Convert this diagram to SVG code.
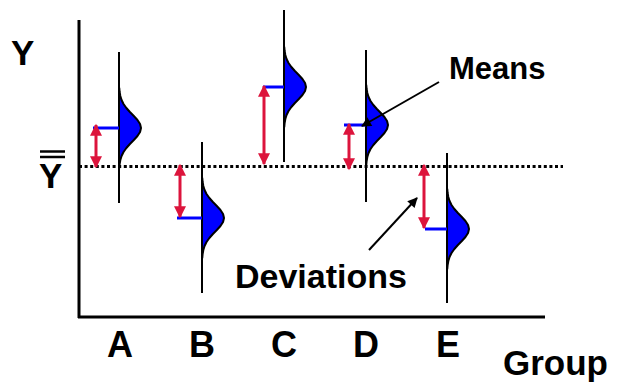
<svg xmlns="http://www.w3.org/2000/svg" width="618" height="389" viewBox="0 0 618 389">
<style>
.lbl{font-family:"Liberation Sans",Arial,sans-serif;font-weight:bold;fill:#000}
.axis{stroke:#000;stroke-width:3;fill:none}
.stem{stroke:#000;stroke-width:2;fill:none}
.mean{stroke:#0000FF;stroke-width:3}
.dev{stroke:#DC143C;stroke-width:3;marker-start:url(#rh);marker-end:url(#rh)}
.ptr{stroke:#000;stroke-width:2;marker-end:url(#bh)}
</style>
<defs>
<path id="bell" fill="#0000FF" stroke="#000" stroke-width="2" stroke-linejoin="round" d="M0,-40 L0.27,-40 L0.63,-36 L1.33,-32 L2.56,-28 L4.53,-24 L7.35,-20 L10.9,-16 L14.82,-12 L18.46,-8 L21.06,-4 L22,0 L21.06,4 L18.46,8 L14.82,12 L10.9,16 L7.35,20 L4.53,24 L2.56,28 L1.33,32 L0.63,36 L0.27,40 L0,40 Z"/>
<marker id="rh" viewBox="0 0 10 10" refX="9" refY="5" markerUnits="userSpaceOnUse" markerWidth="13" markerHeight="12" orient="auto-start-reverse">
<path d="M0,0 L10,5 L0,10 Z" fill="#DC143C"/>
</marker>
<marker id="bh" viewBox="0 0 10 10" refX="9" refY="5" markerUnits="userSpaceOnUse" markerWidth="13" markerHeight="10" orient="auto">
<path d="M0,0 L10,5 L0,10 Z" fill="#000"/>
</marker>
</defs>

<g id="axes">
<line class="axis" x1="79" y1="20" x2="79" y2="318"/>
<line class="axis" x1="78" y1="317" x2="545" y2="317"/>
<line x1="79" y1="166.5" x2="563" y2="166.5" stroke="#000" stroke-width="3" stroke-dasharray="3,2.6"/>
</g>

<g id="ylabels">
<text class="lbl" x="11" y="65" font-size="35">Y</text>
<text class="lbl" x="39" y="188" font-size="35">Y</text>
<line x1="40" y1="151.5" x2="65" y2="151.5" stroke="#000" stroke-width="2.5"/>
<line x1="40" y1="157" x2="65" y2="157" stroke="#000" stroke-width="2.5"/>
</g>

<g id="groupA">
<use href="#bell" x="119" y="128"/>
<line class="stem" x1="119" y1="52" x2="119" y2="203"/>
<line class="mean" x1="93" y1="128" x2="119" y2="128"/>
<line class="dev" x1="96" y1="125" x2="96" y2="167"/>
</g>
<g id="groupB">
<use href="#bell" x="202" y="218"/>
<line class="stem" x1="202" y1="142" x2="202" y2="293"/>
<line class="mean" x1="177" y1="218" x2="202" y2="218"/>
<line class="dev" x1="180" y1="165" x2="180" y2="217"/>
</g>
<g id="groupC">
<use href="#bell" x="284" y="87"/>
<line class="stem" x1="284" y1="10" x2="284" y2="162"/>
<line class="mean" x1="263" y1="87" x2="284" y2="87"/>
<line class="dev" x1="264" y1="86" x2="264" y2="164"/>
</g>
<g id="groupD">
<use href="#bell" x="366" y="125"/>
<line class="stem" x1="366" y1="50" x2="366" y2="202"/>
<line class="mean" x1="344" y1="125" x2="366" y2="125"/>
<line class="dev" x1="349" y1="124" x2="349" y2="169"/>
</g>
<g id="groupE">
<use href="#bell" x="447" y="229"/>
<line class="stem" x1="447" y1="153" x2="447" y2="303"/>
<line class="mean" x1="425" y1="229" x2="447" y2="229"/>
<line class="dev" x1="424" y1="165" x2="424" y2="228"/>
</g>

<g id="connectors">
<line class="ptr" x1="439" y1="82" x2="362" y2="126"/>
<line class="ptr" x1="369" y1="250" x2="417" y2="198"/>
</g>

<g id="labels">
<text class="lbl" x="449" y="79" font-size="31">Means</text>
<text class="lbl" x="235" y="288" font-size="34">Deviations</text>
<text class="lbl" x="120" y="357" font-size="36" text-anchor="middle">A</text>
<text class="lbl" x="202" y="357" font-size="36" text-anchor="middle">B</text>
<text class="lbl" x="284" y="357" font-size="36" text-anchor="middle">C</text>
<text class="lbl" x="366" y="357" font-size="36" text-anchor="middle">D</text>
<text class="lbl" x="448" y="357" font-size="36" text-anchor="middle">E</text>
<text class="lbl" x="503" y="375" font-size="35">Group</text>
</g>
</svg>
